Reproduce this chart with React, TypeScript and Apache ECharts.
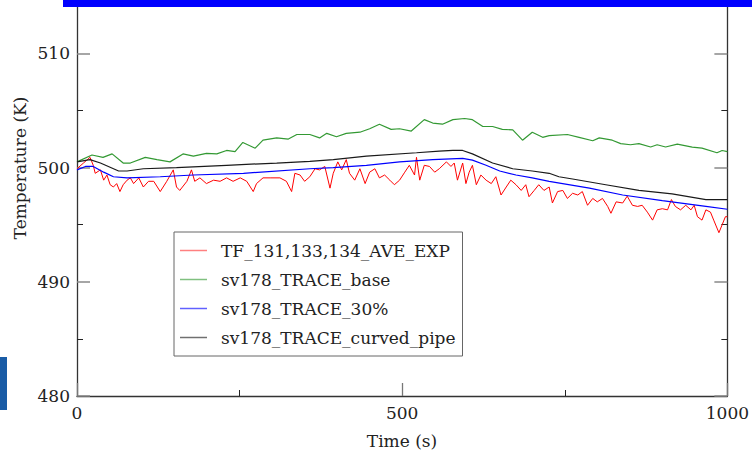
import { useEffect, useRef } from "react";
import * as echarts from "echarts";

// [time (s), temperature (K)]
const expSeries: [number, number][] = [
  [0, 499.9], [10, 500.4], [20, 500.9], [25, 500.2], [28, 499.5], [36, 499.8], [41, 498.9], [46, 499.35],
  [51, 498.5], [56, 498.3], [61, 498.6], [66, 497.9], [71, 498.5], [77, 498.9], [82, 499.1], [87, 498.6],
  [95, 499.1], [102, 498.3], [110, 498.8], [118, 498.8], [128, 497.9], [138, 498.8], [148, 499.8], [153, 498.3],
  [158, 498.0], [169, 498.8], [176, 499.8], [181, 498.8], [189, 499.1], [199, 498.6], [210, 498.9], [220, 498.8],
  [230, 499.1], [240, 498.8], [251, 499.1], [261, 498.8], [271, 497.9], [276, 498.6], [286, 499.1], [297, 499.1],
  [312, 499.1], [322, 498.8], [330, 497.9], [335, 499.5], [343, 499.35], [350, 498.8], [358, 499.2], [366, 499.9],
  [373, 499.8], [381, 500.1], [389, 498.2], [394, 499.5], [401, 500.5], [407, 499.8], [414, 500.7], [419, 499.5],
  [427, 498.9], [435, 499.9], [443, 498.6], [450, 499.6], [458, 499.9], [465, 499.1], [473, 499.35], [481, 498.9],
  [488, 498.5], [496, 498.9], [504, 499.6], [511, 500.2], [519, 499.35], [522, 500.9], [527, 498.9], [534, 500.2],
  [542, 500.1], [550, 499.6], [557, 499.9], [568, 500.5], [575, 500.1], [580, 500.4], [585, 498.9], [593, 500.4],
  [598, 498.6], [603, 499.6], [608, 500.2], [614, 498.5], [621, 499.35], [629, 498.9], [637, 498.6], [644, 499.2],
  [652, 497.6], [660, 498.3], [667, 498.9], [675, 498.5], [683, 498.0], [690, 498.5], [695, 497.45], [703, 498.0],
  [710, 498.5], [718, 498.0], [726, 498.3], [731, 496.9], [739, 497.9], [747, 498.0], [754, 497.3], [762, 497.75],
  [770, 497.6], [777, 497.9], [785, 496.7], [793, 497.3], [800, 497.0], [808, 497.3], [816, 496.6], [821, 496.0],
  [829, 497.0], [839, 496.9], [846, 497.5], [854, 496.7], [862, 496.6], [869, 496.7], [877, 496.1], [885, 495.4],
  [892, 496.3], [900, 496.4], [908, 496.3], [914, 497.2], [920, 496.6], [928, 496.3], [936, 496.7], [944, 496.3],
  [949, 496.7], [954, 495.7], [961, 495.4], [967, 496.3], [974, 496.1], [979, 495.4], [987, 494.3], [992, 495.0],
  [997, 495.7], [1000, 495.7],
];

const baseSeries: [number, number][] = [
  [0, 500.5], [23, 501.1], [40, 500.9], [54, 501.2], [71, 500.4], [82, 500.4], [105, 500.9], [123, 500.7],
  [143, 500.5], [163, 501.2], [179, 501.0], [199, 501.25], [215, 501.2], [230, 501.5], [243, 501.4], [255, 502.2],
  [274, 501.7], [286, 502.4], [307, 502.6], [325, 502.5], [338, 502.9], [358, 502.9], [373, 502.6], [384, 503.0],
  [399, 502.7], [414, 503.0], [435, 503.1], [450, 503.4], [465, 503.8], [483, 503.35], [496, 503.4], [514, 503.2],
  [534, 504.2], [547, 503.9], [562, 503.8], [578, 504.2], [596, 504.3], [608, 504.2], [624, 503.6], [639, 503.6],
  [654, 503.35], [670, 503.3], [685, 502.4], [700, 503.1], [716, 502.65], [726, 502.8], [754, 502.9], [772, 502.65],
  [793, 502.35], [803, 502.6], [823, 502.4], [836, 502.1], [851, 502.0], [864, 502.1], [882, 501.8], [892, 502.0],
  [905, 501.8], [923, 502.05], [946, 501.8], [961, 501.7], [984, 501.3], [992, 501.5], [1000, 501.4],
];

const pct30Series: [number, number][] = [
  [0, 499.8], [13, 500.1], [25, 500.1], [41, 499.6], [56, 499.2], [77, 499.1], [128, 499.2], [179, 499.35],
  [256, 499.5], [358, 499.9], [394, 500.0], [445, 500.2], [496, 500.5], [547, 500.7], [593, 500.8], [608, 500.65],
  [629, 500.2], [650, 499.7], [675, 499.35], [700, 499.1], [726, 498.8], [788, 498.2], [839, 497.6], [900, 497.1],
  [967, 496.6], [1000, 496.35],
];

const curvedSeries: [number, number][] = [
  [0, 500.5], [20, 500.7], [36, 500.4], [64, 499.7], [77, 499.7], [102, 499.9], [153, 500.0], [230, 500.2],
  [307, 500.4], [358, 500.55], [394, 500.7], [445, 501.0], [522, 501.3], [557, 501.45], [578, 501.5], [593, 501.5],
  [608, 501.2], [639, 500.4], [670, 499.9], [700, 499.7], [726, 499.5], [741, 499.2], [762, 499.0], [813, 498.5],
  [864, 498.0], [915, 497.7], [967, 497.2], [1000, 497.2],
];

const seriesNames = [
  "TF_131,133,134_AVE_EXP",
  "sv178_TRACE_base",
  "sv178_TRACE_30%",
  "sv178_TRACE_curved_pipe",
];
const seriesColors = ["#ff0000", "#339933", "#0000ff", "#1a1a1a"];
const legendColors = ["#ff8080", "#80c080", "#6060ff", "#707070"];

const xMajorTicks = [0, 500, 1000];
const xMinorTicks = [250, 750];
const yMajorTicks = [480, 490, 500, 510];
const yMinorTicks = [485, 495, 505];

const FONT = '"DejaVu Serif", "Liberation Serif", serif';

export default function App() {
  const ref = useRef<HTMLDivElement>(null);
  useEffect(() => {
    const chart = echarts.init(ref.current!, null, { renderer: "svg" });
    const yBase = { type: "value" as const, min: 480, max: 514.5, splitLine: { show: false } };
    const xBase = { type: "value" as const, min: 0, max: 1000, splitLine: { show: false } };
    const labelStyle = { fontFamily: FONT, fontSize: 17, color: "#222" };
    const datasets = [expSeries, baseSeries, pct30Series, curvedSeries];
    const widths = [1, 1.2, 1.2, 1.2];
    chart.setOption({
      animation: false,
      backgroundColor: "#ffffff",
      grid: { left: 77, right: 24, top: 2, bottom: 57, containLabel: false },
      xAxis: [
        {
          ...xBase,
          position: "bottom",
          axisLine: { show: true, lineStyle: { color: "#333", width: 1.3 } },
          axisTick: { show: true, inside: true, length: 13, customValues: xMajorTicks, lineStyle: { color: "#777", width: 1.3 } },
          axisLabel: { show: true, customValues: xMajorTicks, margin: 8, formatter: (v: number) => String(v), ...labelStyle },
        },
        {
          ...xBase,
          position: "bottom",
          axisLine: { show: false },
          axisTick: { show: true, inside: true, length: 6, customValues: xMinorTicks, lineStyle: { color: "#222", width: 1 } },
          axisLabel: { show: false },
        },
      ],
      yAxis: [
        {
          ...yBase,
          position: "left",
          axisLine: { show: true, lineStyle: { color: "#333", width: 1.3 } },
          axisTick: { show: true, inside: true, length: 13, customValues: yMajorTicks, lineStyle: { color: "#888", width: 1.5 } },
          axisLabel: { show: true, customValues: yMajorTicks, margin: 7, formatter: (v: number) => String(v), ...labelStyle },
        },
        {
          ...yBase,
          position: "left",
          axisLine: { show: false },
          axisTick: { show: true, inside: true, length: 6, customValues: yMinorTicks, lineStyle: { color: "#222", width: 1 } },
          axisLabel: { show: false },
        },
        {
          ...yBase,
          position: "right",
          axisLine: { show: true, lineStyle: { color: "#333", width: 1.3 } },
          axisTick: { show: true, inside: true, length: 13, customValues: yMajorTicks, lineStyle: { color: "#888", width: 1.5 } },
          axisLabel: { show: false },
        },
        {
          ...yBase,
          position: "right",
          axisLine: { show: false },
          axisTick: { show: true, inside: true, length: 6, customValues: yMinorTicks, lineStyle: { color: "#222", width: 1 } },
          axisLabel: { show: false },
        },
      ],
      legend: {
        orient: "vertical",
        left: 174,
        top: 232,
        padding: [10, 7, 10, 6],
        itemGap: 12,
        itemWidth: 27,
        itemHeight: 1.5,
        icon: "rect",
        borderColor: "#666",
        borderWidth: 1,
        backgroundColor: "#fff",
        textStyle: { ...labelStyle, padding: [0, 0, 0, 9] },
        data: seriesNames.map((n, i) => ({ name: n, itemStyle: { color: legendColors[i] } })),
      },
      series: datasets.map((d, i) => ({
        name: seriesNames[i],
        type: "line",
        data: d,
        symbol: "none",
        showSymbol: false,
        xAxisIndex: 0,
        yAxisIndex: 0,
        lineStyle: { color: seriesColors[i], width: widths[i] },
        itemStyle: { color: seriesColors[i] },
        z: 2 + i,
      })),
      graphic: [
        { type: "rect", shape: { x: 63, y: 0, width: 689, height: 7 }, style: { fill: "#0000ff" }, z: 100 },
        { type: "rect", shape: { x: 0, y: 357, width: 7, height: 53 }, style: { fill: "#1a5ca6" }, z: 100 },
        {
          type: "text",
          x: 20,
          y: 168,
          rotation: Math.PI / 2,
          style: { text: "Temperature (K)", font: `17px ${FONT}`, fill: "#222", textAlign: "center", textVerticalAlign: "middle" },
        },
        {
          type: "text",
          x: 402,
          y: 441,
          style: { text: "Time (s)", font: `17px ${FONT}`, fill: "#222", textAlign: "center", textVerticalAlign: "middle" },
        },
      ],
    });
    return () => chart.dispose();
  }, []);
  return <div ref={ref} style={{ position: "fixed", left: 0, top: 0, width: 752, height: 453 }} />;
}
